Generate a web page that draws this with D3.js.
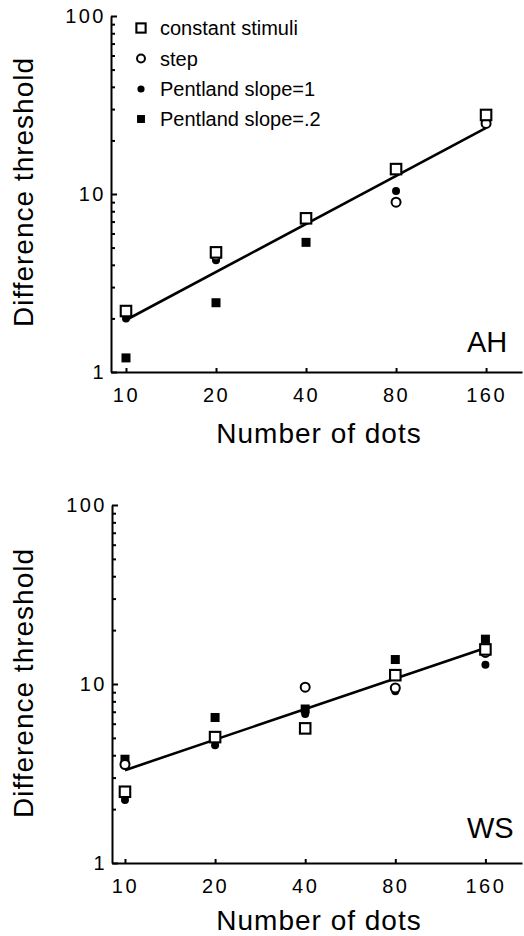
<!DOCTYPE html>
<html><head><meta charset="utf-8">
<script src="https://cdn.jsdelivr.net/npm/d3@7"></script>
<style>body{margin:0;background:#fff}</style>
</head><body>
<svg id="c" width="524" height="936"></svg>
<script>
// ---- data ----
const dots = [10, 20, 40, 80, 160];
const xTickLabels = ["10", "20", "40", "80", "160"];
const yMajorTicks = [1, 10, 100];
const yMinorTicks = [2, 3, 4, 5, 6, 7, 8, 9, 20, 30, 40, 50, 60, 70, 80, 90];
const seriesNames = ["constant stimuli", "step", "Pentland slope=1", "Pentland slope=.2"];
const seriesShapes = ["openSquare", "openCircle", "filledCircle", "filledSquare"];

// Observer AH
const ahConstant = [2.2, 4.7, 7.3, 13.8, 27.8];
const ahStep     = [2.2, 4.5, 7.3, 9.0, 24.9];
const ahSlope1   = [2.0, 4.25, 7.1, 10.4, 25.5];
const ahSlope02  = [1.2, 2.45, 5.35, 14.0, 28.0];
const ahFitX = [10, 160];
const ahFitY = [1.96, 23.5];

// Observer WS
const wsConstant = [2.5, 5.05, 5.65, 11.2, 15.6];
const wsStep     = [3.55, 5.0, 9.6, 9.5, 15.0];
const wsSlope1   = [2.25, 4.55, 6.8, 9.1, 12.8];
const wsSlope02  = [3.8, 6.5, 7.25, 13.7, 17.8];
const wsFitX = [10, 160];
const wsFitY = [3.3, 15.9];

const FONT = "'Liberation Sans', Arial, Helvetica, sans-serif";
const svg = d3.select("#c");

function drawMarker(g, shape, cx, cy, big) {
  const s = big ? 1 : 0.88;
  if (shape === "openSquare") {
    const a = 10.5 * s;
    g.append("rect").attr("x", cx - a/2).attr("y", cy - a/2).attr("width", a).attr("height", a)
      .attr("fill", "#fff").attr("stroke", "#000").attr("stroke-width", 2.1);
  } else if (shape === "openCircle") {
    g.append("circle").attr("cx", cx).attr("cy", cy).attr("r", 4.5 * s)
      .attr("fill", "#fff").attr("stroke", "#000").attr("stroke-width", 2);
  } else if (shape === "filledCircle") {
    g.append("circle").attr("cx", cx).attr("cy", cy).attr("r", big ? 4 : 3.6).attr("fill", "#000");
  } else {
    const a = 9 * s;
    g.append("rect").attr("x", cx - a/2).attr("y", cy - a/2).attr("width", a).attr("height", a).attr("fill", "#000");
  }
}

function panel(cfg) {
  const g = svg.append("g");
  const x = d3.scaleLog().base(2).domain(cfg.xDomain).range(cfg.xRange);
  const y = d3.scaleLog().domain([1, 100]).range(cfg.yRange);

  // y axis major
  const yAx = g.append("g").attr("transform", `translate(${cfg.xRange[0]},0)`)
    .call(d3.axisLeft(y).tickValues(yMajorTicks).tickFormat(d3.format("d"))
      .tickSize(-6).tickSizeOuter(0).tickPadding(5));
  yAx.select(".domain").attr("stroke-width", 2);
  yAx.selectAll(".tick line").attr("stroke-width", 2);
  yAx.selectAll("text").attr("font-family", FONT).attr("font-size", 20)
    .attr("letter-spacing", 2.5).attr("fill", "#000");
  // y axis minor
  const yMin = g.append("g").attr("transform", `translate(${cfg.xRange[0]},0)`)
    .call(d3.axisLeft(y).tickValues(yMinorTicks).tickFormat("").tickSize(-4).tickSizeOuter(0));
  yMin.select(".domain").remove();
  yMin.selectAll(".tick line").attr("stroke-width", 2);

  // x axis
  const xAx = g.append("g").attr("transform", `translate(0,${cfg.yRange[0]})`)
    .call(d3.axisBottom(x).tickValues(dots).tickFormat((d, i) => xTickLabels[i])
      .tickSize(-4).tickSizeOuter(0).tickPadding(15.5));
  xAx.select(".domain").attr("stroke-width", 2.2);
  xAx.selectAll(".tick line").attr("stroke-width", 2);
  xAx.selectAll("text").attr("font-family", FONT).attr("font-size", 20)
    .attr("letter-spacing", 2.5).attr("fill", "#000");

  // titles
  g.append("text").attr("transform", `translate(${cfg.yTitleX},${cfg.yTitleY}) rotate(-90)`)
    .attr("text-anchor", "middle").attr("font-family", FONT).attr("font-size", 28)
    .attr("letter-spacing", 1).text("Difference threshold");
  g.append("text").attr("x", 319).attr("y", cfg.xTitleY).attr("text-anchor", "middle")
    .attr("font-family", FONT).attr("font-size", 28).attr("letter-spacing", 1).text("Number of dots");

  // panel label
  g.append("text").attr("x", 467).attr("y", cfg.labelY).attr("font-family", FONT)
    .attr("font-size", 29).text(cfg.label);

  // fit line
  const line = d3.line().x(d => x(d[0])).y(d => y(d[1]));
  g.append("path").datum(cfg.fitX.map((v, i) => [v, cfg.fitY[i]]))
    .attr("d", line).attr("fill", "none").attr("stroke", "#000").attr("stroke-width", 2.6);

  // markers, drawn in order: filled squares, filled circles, open circles, open squares
  const order = [3, 2, 1, 0];
  order.forEach(si => {
    const vals = cfg.series[si];
    dots.forEach((d, i) => {
      if (vals[i] == null) return;
      drawMarker(g, seriesShapes[si], x(d), y(vals[i]), true);
    });
  });

  // legend
  if (cfg.legend) {
    const ly = [28, 58.5, 89, 119];
    seriesNames.forEach((n, i) => {
      drawMarker(g, seriesShapes[i], 141, ly[i], false);
      g.append("text").attr("x", 160).attr("y", ly[i]).attr("dy", "0.35em")
        .attr("font-family", FONT).attr("font-size", 20).text(n);
    });
  }
}

panel({
  xDomain: [8.91, 211], xRange: [111, 522], yRange: [372, 16],
  series: [ahConstant, ahStep, ahSlope1, ahSlope02],
  fitX: ahFitX, fitY: ahFitY, label: "AH", labelY: 352,
  yTitleX: 33, yTitleY: 192, xTitleY: 443, legend: true
});
panel({
  xDomain: [9.05, 212], xRange: [112, 522], yRange: [863, 505],
  series: [wsConstant, wsStep, wsSlope1, wsSlope02],
  fitX: wsFitX, fitY: wsFitY, label: "WS", labelY: 838,
  yTitleX: 33, yTitleY: 683, xTitleY: 930, legend: false
});
</script>
</body></html>
